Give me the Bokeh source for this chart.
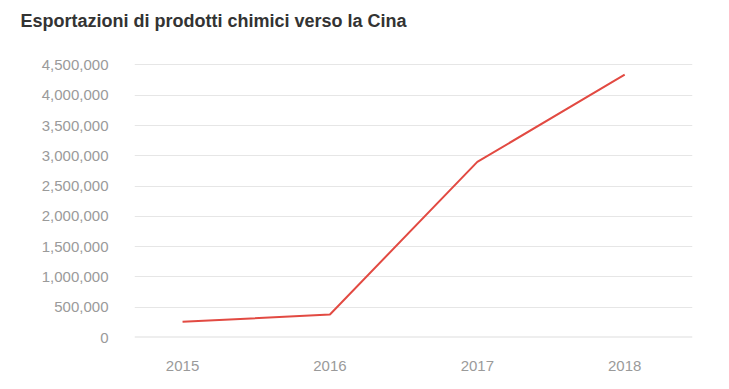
from bokeh.plotting import figure
from bokeh.layouts import column
from bokeh.models import Range1d, FixedTicker, NumeralTickFormatter, BasicTickFormatter, Span
from bokeh.core.properties import value
from bokeh.embed import file_html
from bokeh.resources import INLINE

title_text = "Esportazioni di prodotti chimici verso la Cina"
years = [2015, 2016, 2017, 2018]
exports = [260000, 380000, 2900000, 4340000]
y_ticks = [0, 500000, 1000000, 1500000, 2000000, 2500000, 3000000, 3500000, 4000000, 4500000]

# title strip
t = figure(width=729, height=40, output_backend="svg", toolbar_location=None,
           x_range=Range1d(0, 729), y_range=Range1d(0, 40),
           x_axis_type=None, y_axis_type=None,
           min_border_left=0, min_border_right=0, min_border_top=0, min_border_bottom=0)
t.frame_align = False
t.outline_line_color = None
t.xgrid.visible = False
t.ygrid.visible = False
t.text(x=[20], y=[20], text=[title_text], text_font=value("Liberation Sans"),
       text_font_size="18px", text_font_style="bold", text_color="#333333",
       text_baseline="alphabetic", text_align="left")

p = figure(width=729, height=349, output_backend="svg", toolbar_location=None,
           x_range=Range1d(2014.674, 2018.46), y_range=Range1d(0, 4640000),
           min_border_left=134, min_border_right=37, min_border_top=16, min_border_bottom=52)
p.frame_align = False

p.outline_line_color = None
p.background_fill_color = "white"
p.border_fill_color = "white"

p.line(years, exports, line_color="#e24a42", line_width=2)

p.yaxis.ticker = FixedTicker(ticks=y_ticks)
p.yaxis.formatter = NumeralTickFormatter(format="0,0")
p.xaxis.ticker = FixedTicker(ticks=years)
p.xaxis.formatter = BasicTickFormatter(use_scientific=False)

for ax in (p.xaxis[0], p.yaxis[0]):
    ax.axis_line_color = None
    ax.major_tick_line_color = None
    ax.minor_tick_line_color = None
    ax.major_label_text_font = "Liberation Sans"
    ax.major_label_text_font_size = "15px"
    ax.major_label_text_color = "#9a9a9a"
p.yaxis.major_label_standoff = 20
p.xaxis.major_label_standoff = 17

p.xgrid.grid_line_color = None
p.ygrid.grid_line_color = "#e6e6e6"
p.ygrid.grid_line_width = 1

p.add_layout(Span(location=0, dimension="width", line_color="#dedede", line_width=2))

layout = column(t, p, spacing=0)
open("out.html", "w").write(file_html(layout, INLINE))
